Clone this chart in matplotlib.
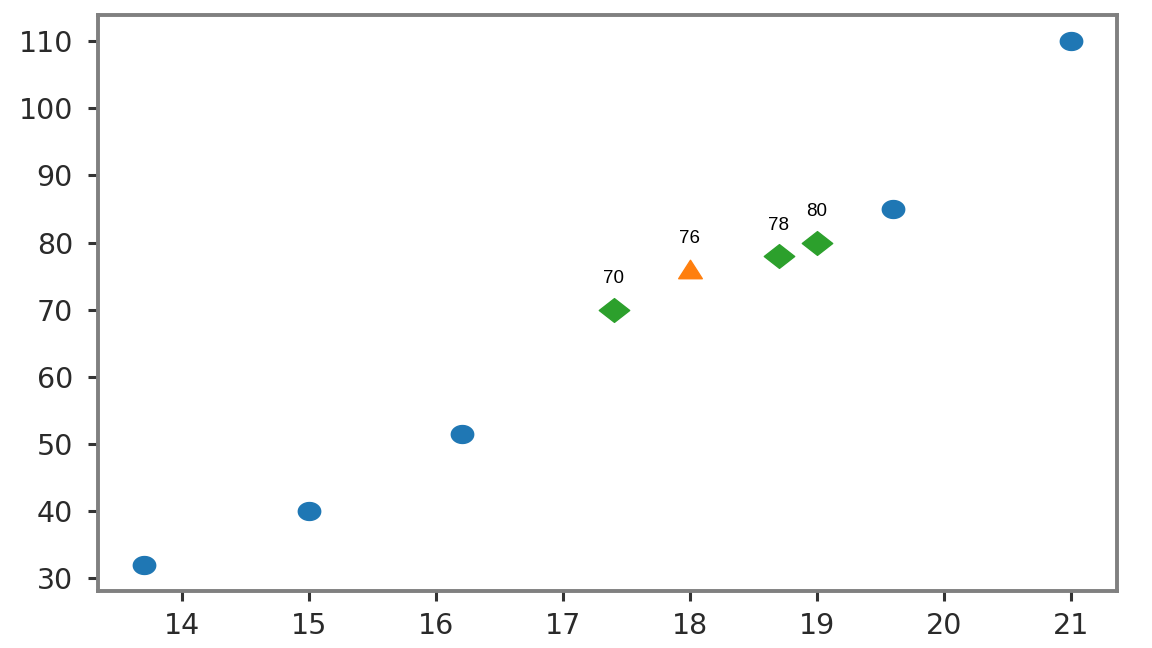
import numpy as np
import matplotlib
matplotlib.use("Agg")
import matplotlib.pyplot as plt
from matplotlib.path import Path

# data
blue_x = [13.7, 15.0, 16.2, 19.6, 21.0]
blue_y = [32, 40, 51.5, 85, 110]
orange_x = [18.0]
orange_y = [76]
green_x = [17.4, 18.7, 19.0]
green_y = [70, 78, 80]
label_x = [17.4, 18.0, 18.7, 19.0]
label_y = [70, 76, 78, 80]
x_ticks = [14, 15, 16, 17, 18, 19, 20, 21]
y_ticks = [30, 40, 50, 60, 70, 80, 90, 100, 110]

# horizontally stretched marker shapes
t = np.linspace(0, 2 * np.pi, 64)
ellipse = Path(np.column_stack([np.cos(t), 0.8 * np.sin(t)]), closed=True)
diamond = Path([(-1, 0), (0, -0.78), (1, 0), (0, 0.78), (-1, 0)], closed=True)
triangle = Path([(-1, -0.78), (1, -0.78), (0, 0.78), (-1, -0.78)], closed=True)

fig = plt.figure(figsize=(11.52, 6.48), dpi=100)
ax = fig.add_axes([0.085, 0.088, 0.8846, 0.889])

ax.scatter(blue_x, blue_y, marker=ellipse, s=260, color='#1f77b4', zorder=3)
ax.scatter(orange_x, orange_y, marker=triangle, s=290, color='#ff7f0e', zorder=3)
ax.scatter(green_x, green_y, marker=diamond, s=480, color='#2ca02c', zorder=3)

for xv, yv in zip(label_x, label_y):
    ax.annotate(f"{yv}", (xv, yv), xytext=(0, 16), textcoords='offset points',
                ha='center', va='bottom', fontsize=13.5, family='Liberation Sans',
                color='black')

ax.set_xticks(x_ticks)
ax.set_yticks(y_ticks)
ax.tick_params(labelsize=20.5, colors='#333333', length=7, width=2.2)
ax.tick_params(axis='x', pad=8)
ax.tick_params(axis='y', pad=11)
for lab in ax.get_xticklabels() + ax.get_yticklabels():
    lab.set_color('#2a2a2a')
for sp in ax.spines.values():
    sp.set_color('#808080')
    sp.set_linewidth(2.8)

fig.savefig("out.png", dpi=100)
